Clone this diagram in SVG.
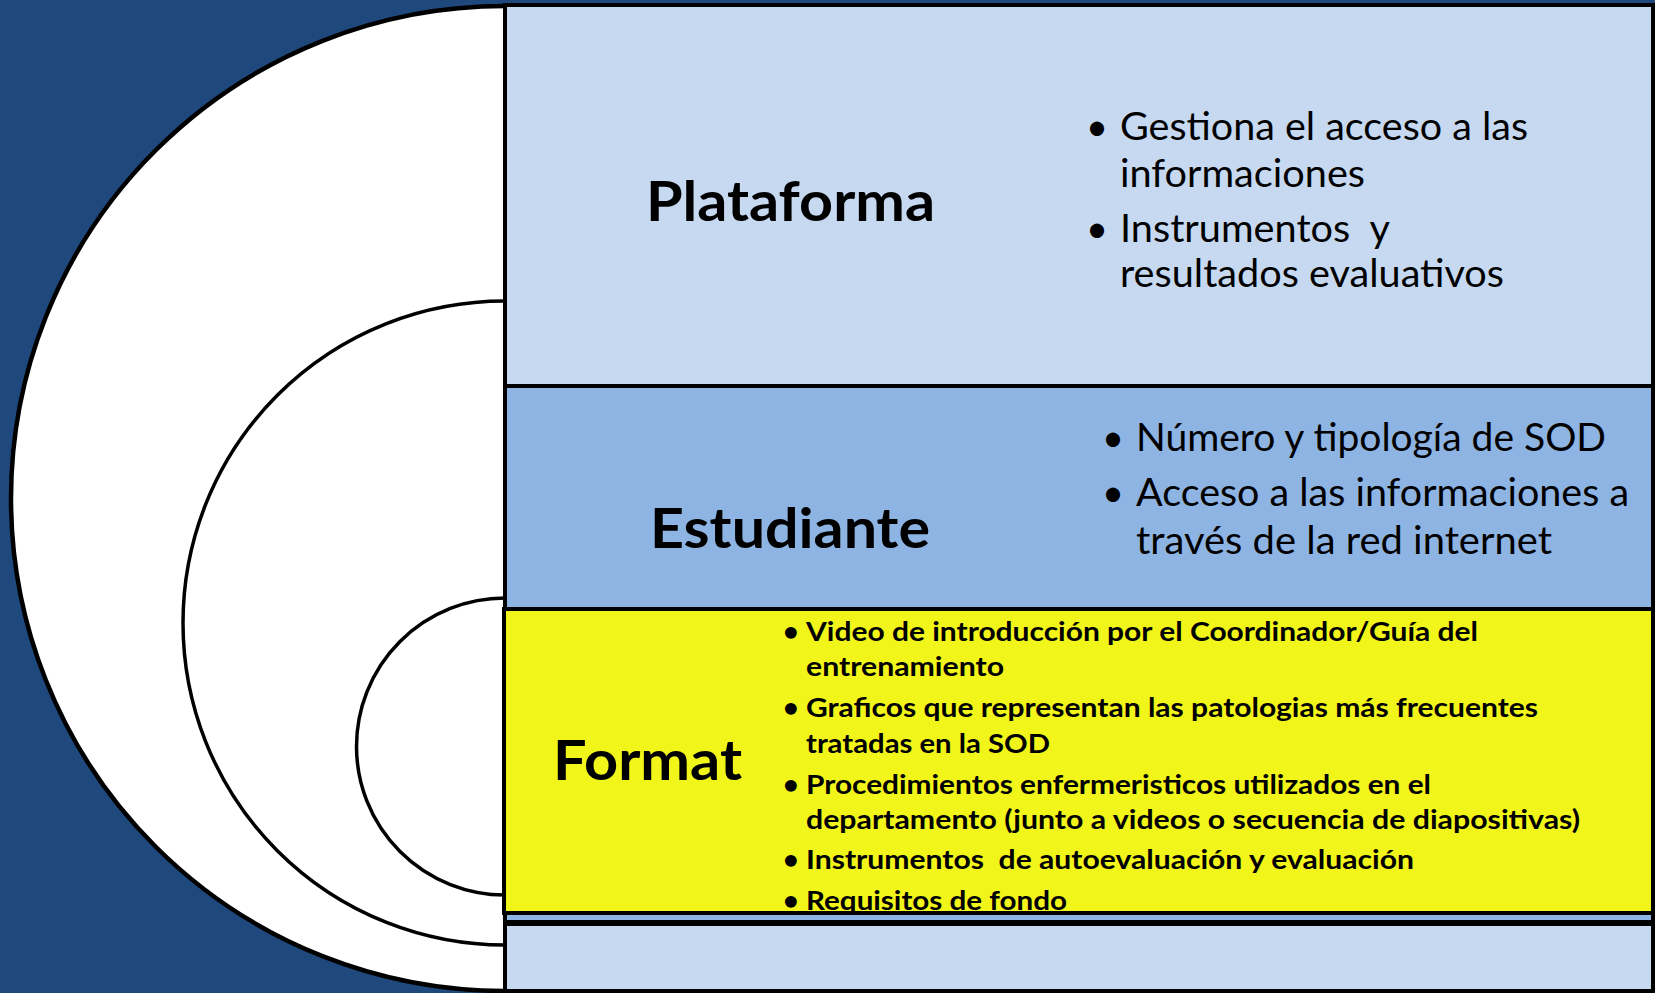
<svg xmlns="http://www.w3.org/2000/svg" width="1655" height="993" viewBox="0 0 1655 993">
<style>
.ring{fill:#fff;stroke:#000}
.panel{stroke:#000;stroke-width:4}
.t{font-family:Lato,"Liberation Sans",sans-serif;fill:#000}
.title{font-weight:700;font-size:56px}
.item{font-size:38px}
.fmt{font-weight:700;font-size:27px}
.pre{white-space:pre}
</style>
<rect x="0" y="0" width="1655" height="993" fill="#1F497D"/>
<g id="rings">
  <ellipse class="ring" cx="505" cy="498.5" rx="494" ry="492.5" stroke-width="4.5"/>
  <circle class="ring" cx="505" cy="623" r="322" stroke-width="3.5"/>
  <circle class="ring" cx="505" cy="746.5" r="148.5" stroke-width="3.5"/>
</g>
<g id="connectors"></g>
<g id="plataforma">
  <rect class="panel" x="505" y="5" width="1148" height="381" fill="#C6D9F1"/>
  <text class="t title" x="646" y="221" textLength="289" lengthAdjust="spacingAndGlyphs">Plataforma</text>
  <text class="t item" x="1086" y="140">•</text>
  <text class="t item" x="1120" y="140" textLength="408" lengthAdjust="spacingAndGlyphs">Gestiona el acceso a las</text>
  <text class="t item" x="1120" y="187" textLength="245" lengthAdjust="spacingAndGlyphs">informaciones</text>
  <text class="t item" x="1086" y="242">•</text>
  <text class="t item pre" x="1120" y="242" xml:space="preserve" textLength="270" lengthAdjust="spacingAndGlyphs">Instrumentos  y</text>
  <text class="t item" x="1120" y="287" textLength="384" lengthAdjust="spacingAndGlyphs">resultados evaluativos</text>
</g>
<g id="estudiante">
  <rect class="panel" x="505" y="386" width="1148" height="536" fill="#8EB4E3"/>
  <text class="t title" x="650" y="548" textLength="280" lengthAdjust="spacingAndGlyphs">Estudiante</text>
  <text class="t item" x="1102" y="451">•</text>
  <text class="t item" x="1136" y="451" textLength="470" lengthAdjust="spacingAndGlyphs">Número y tipología de SOD</text>
  <text class="t item" x="1102" y="506">•</text>
  <text class="t item" x="1136" y="506" textLength="493" lengthAdjust="spacingAndGlyphs">Acceso a las informaciones a</text>
  <text class="t item" x="1136" y="554" textLength="416" lengthAdjust="spacingAndGlyphs">través de la red internet</text>
</g>
<g id="format">
  <rect x="505" y="609" width="1148" height="304" fill="#F2F51A"/>
  <text class="t title" x="553" y="780" textLength="189" lengthAdjust="spacingAndGlyphs">Format</text>
  <text class="t fmt" x="783" y="641">•</text>
  <text class="t fmt" x="806" y="641" textLength="672" lengthAdjust="spacingAndGlyphs">Video de introducción por el Coordinador/Guía del</text>
  <text class="t fmt" x="806" y="676" textLength="198" lengthAdjust="spacingAndGlyphs">entrenamiento</text>
  <text class="t fmt" x="783" y="717">•</text>
  <text class="t fmt" x="806" y="717" textLength="732" lengthAdjust="spacingAndGlyphs">Graficos que representan las patologias más frecuentes</text>
  <text class="t fmt" x="806" y="753" textLength="244" lengthAdjust="spacingAndGlyphs">tratadas en la SOD</text>
  <text class="t fmt" x="783" y="794">•</text>
  <text class="t fmt" x="806" y="794" textLength="625" lengthAdjust="spacingAndGlyphs">Procedimientos enfermeristicos utilizados en el</text>
  <text class="t fmt" x="806" y="829" textLength="774" lengthAdjust="spacingAndGlyphs">departamento (junto a videos o secuencia de diapositivas)</text>
  <text class="t fmt" x="783" y="869">•</text>
  <text class="t fmt pre" x="806" y="869" xml:space="preserve" textLength="608" lengthAdjust="spacingAndGlyphs">Instrumentos  de autoevaluación y evaluación</text>
  <text class="t fmt" x="783" y="910">•</text>
  <text class="t fmt" x="806" y="910" textLength="261" lengthAdjust="spacingAndGlyphs">Requisitos de fondo</text>
  <rect class="panel" x="504" y="609" width="1149" height="304" fill="none"/>
</g>
<g id="base">
  <rect class="panel" x="505" y="924" width="1148" height="67" fill="#C6D9F1"/>
</g>
</svg>
